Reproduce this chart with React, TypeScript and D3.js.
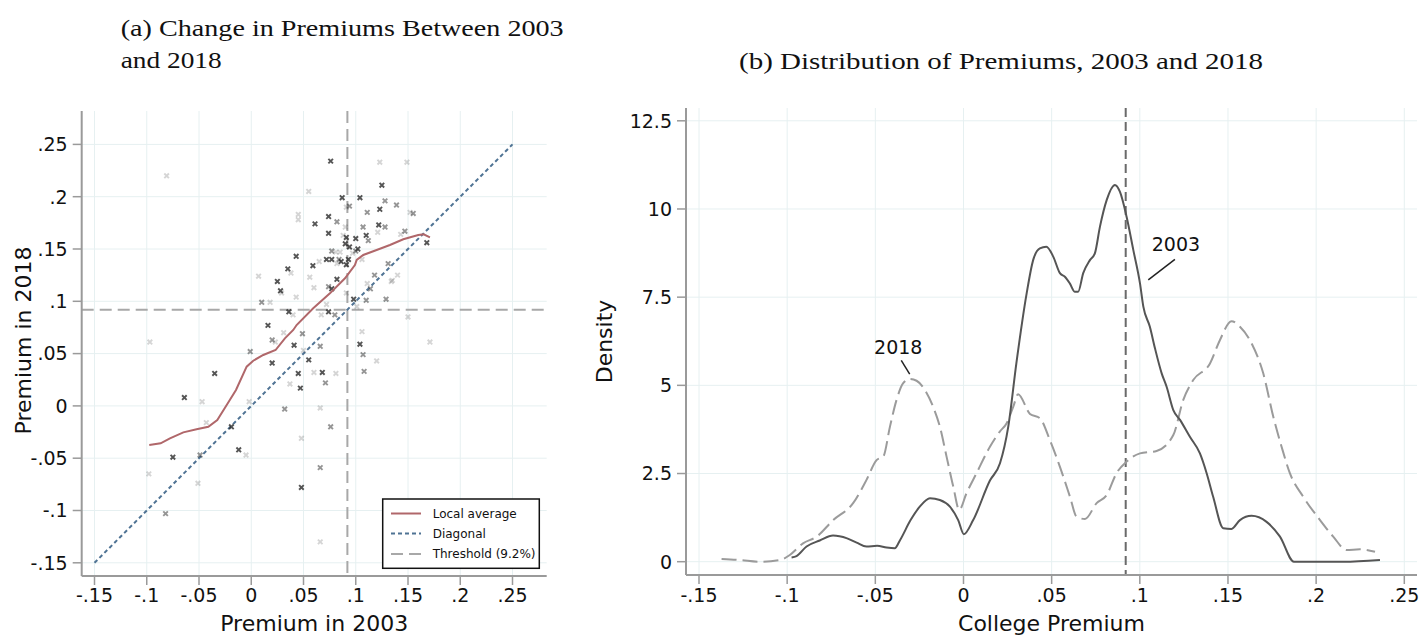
import React from 'react';
import * as d3 from 'd3';

// ---------- Data ----------
const axisTicksA = [-0.15, -0.1, -0.05, 0, 0.05, 0.1, 0.15, 0.2, 0.25];
const xTicksB = [-0.15, -0.1, -0.05, 0, 0.05, 0.1, 0.15, 0.2, 0.25];
const yTicksB = [0, 2.5, 5, 7.5, 10, 12.5];
const threshold = 0.092;

// scatter: premium 2003, premium 2018, weight class (3 dark, 2 mid, 1 light)
const prem2003 = [
  -0.081, 0.076, 0.123, 0.149, 0.125, 0.055, 0.087, 0.104, 0.128, 0.091,
  0.094, 0.139, 0.123, 0.111, 0.045, 0.045, 0.074, 0.152, 0.155, 0.082,
  0.061, 0.122, 0.128, 0.107, 0.090, 0.121, 0.147, 0.143, 0.074, 0.088,
  0.091, 0.100, 0.110, 0.112, 0.090, 0.094, 0.102, 0.100, 0.077, 0.081,
  0.085, 0.097, 0.168, 0.043, 0.072, 0.077, 0.084, 0.086, 0.093, 0.082,
  0.091, 0.065, 0.059, 0.106, 0.131, 0.035, 0.038, 0.007, 0.056, 0.118,
  0.140, 0.025, 0.082, 0.134, 0.074, 0.077, 0.060, 0.028, 0.111, 0.114,
  0.043, 0.098, 0.129, 0.091, 0.010, 0.018, 0.036, 0.040, 0.074, 0.080,
  0.067, 0.101, 0.110, 0.150, 0.016, 0.031, 0.049, 0.020, 0.023, 0.041,
  0.066, 0.050, -0.001, 0.020, 0.055, 0.106, 0.104, 0.107, 0.120, 0.108,
  0.171, -0.097, -0.035, -0.064, -0.047, -0.002, -0.043, -0.019, 0.045, 0.060,
  0.068, 0.081, 0.037, 0.047, 0.071, 0.032, 0.066, 0.076, 0.048, -0.012,
  -0.005, -0.075, -0.049, 0.066, -0.098, -0.051, 0.048, -0.082, 0.066, 0.029,
  0.135, 0.072,
];
const prem2018 = [
  0.220, 0.234, 0.233, 0.233, 0.211, 0.205, 0.199, 0.199, 0.196, 0.190,
  0.191, 0.192, 0.188, 0.185, 0.183, 0.178, 0.181, 0.185, 0.184, 0.176,
  0.174, 0.173, 0.171, 0.171, 0.171, 0.166, 0.167, 0.164, 0.165, 0.163,
  0.161, 0.160, 0.163, 0.158, 0.155, 0.152, 0.150, 0.148, 0.148, 0.147,
  0.147, 0.146, 0.156, 0.143, 0.140, 0.140, 0.140, 0.138, 0.140, 0.136,
  0.135, 0.138, 0.134, 0.140, 0.136, 0.131, 0.127, 0.124, 0.123, 0.125,
  0.125, 0.119, 0.121, 0.119, 0.114, 0.112, 0.113, 0.110, 0.117, 0.112,
  0.104, 0.102, 0.102, 0.108, 0.099, 0.099, 0.090, 0.087, 0.090, 0.087,
  0.087, 0.095, 0.101, 0.085, 0.077, 0.070, 0.069, 0.063, 0.061, 0.058,
  0.057, 0.053, 0.052, 0.041, 0.044, 0.071, 0.059, 0.049, 0.043, 0.033,
  0.061, 0.061, 0.031, 0.008, 0.004, 0.004, -0.016, -0.020, 0.031, 0.032,
  0.032, 0.031, 0.021, 0.017, 0.022, -0.003, -0.002, -0.020, -0.031, -0.042,
  -0.047, -0.049, -0.047, -0.059, -0.065, -0.074, -0.078, -0.103, -0.130, 0.108,
  0.120, 0.097,
];
const weightClass = [
  1, 3, 1, 1, 3, 1, 3, 3, 2, 1,
  2, 2, 3, 2, 1, 1, 3, 1, 2, 2,
  3, 3, 2, 2, 1, 1, 2, 1, 3, 1,
  3, 3, 3, 2, 3, 3, 3, 2, 2, 1,
  1, 1, 3, 3, 3, 3, 2, 3, 3, 1,
  3, 1, 3, 1, 2, 3, 1, 1, 1, 2,
  1, 3, 3, 1, 2, 3, 1, 3, 1, 2,
  1, 3, 2, 1, 2, 1, 3, 1, 3, 2,
  1, 1, 2, 1, 3, 1, 2, 2, 1, 3,
  2, 1, 2, 3, 3, 1, 3, 2, 1, 2,
  1, 1, 3, 3, 1, 1, 1, 3, 3, 1,
  3, 1, 1, 3, 2, 2, 1, 2, 1, 3,
  1, 3, 2, 2, 1, 1, 3, 2, 1, 1,
  1, 1,
];

// local average (lowess) line
const localX = [-0.0976, -0.0867, -0.0778, -0.065, -0.0523, -0.0411, -0.0325, -0.0235, -0.0146, -0.0044,
  0.0019, 0.0115, 0.0233, 0.0322, 0.0402, 0.0434, 0.0593, 0.0753, 0.0897, 0.0992,
  0.1009, 0.1072, 0.12, 0.1327, 0.1455, 0.1598, 0.1650, 0.171];
const localY = [-0.0374, -0.0358, -0.031, -0.0253, -0.0224, -0.0199, -0.0135, 0.0009, 0.0152, 0.0375,
  0.0432, 0.0487, 0.0534, 0.0646, 0.0726, 0.0773, 0.0933, 0.1076, 0.122, 0.1347,
  0.1395, 0.1443, 0.149, 0.1538, 0.1593, 0.1634, 0.164, 0.1612];

// kernel densities
const dens2003X = [-0.0975, -0.0947, -0.089, -0.0815, -0.074, -0.066, -0.0606, -0.055, -0.049, -0.0436,
  -0.039, -0.036, -0.030, -0.0248, -0.019, -0.0134, -0.0077, -0.003, 0.0002, 0.0055,
  0.015, 0.0207, 0.0254, 0.030, 0.0358, 0.0395, 0.0433, 0.047, 0.0509, 0.0547,
  0.0575, 0.0603, 0.0632, 0.065, 0.0679, 0.0717, 0.0745, 0.0774, 0.0812, 0.0859,
  0.0887, 0.0925, 0.0963, 0.1001, 0.102, 0.1057, 0.1086, 0.1124, 0.1152, 0.119,
  0.1228, 0.1284, 0.1341, 0.1379, 0.1416, 0.1473, 0.152, 0.1568, 0.1634, 0.1719,
  0.1795, 0.1874, 0.2154, 0.2362];
const dens2003Y = [0.12, 0.16, 0.43, 0.6, 0.74, 0.66, 0.54, 0.43, 0.45, 0.4,
  0.38, 0.61, 1.18, 1.56, 1.80, 1.75, 1.56, 1.18, 0.78, 1.18,
  2.3, 2.79, 3.83, 5.63, 7.6, 8.55, 8.88, 8.93, 8.65, 8.18,
  8.08, 7.89, 7.65, 7.65, 8.18, 8.55, 8.74, 9.5, 10.25, 10.68,
  10.49, 9.78, 8.84, 7.89, 7.23, 6.66, 6.05, 5.34, 4.96, 4.3,
  4.02, 3.54, 3.07, 2.51, 1.84, 0.95, 0.93, 1.18, 1.3, 1.13,
  0.71, 0.0, 0.0, 0.05];
const dens2018X = [-0.1372, -0.1268, -0.1155, -0.104, -0.0985, -0.091, -0.0833, -0.0739, -0.0626, -0.055,
  -0.0493, -0.0455, -0.0417, -0.038, -0.0342, -0.0304, -0.0266, -0.0219, -0.0172, -0.0134,
  -0.0096, -0.0058, -0.0024, 0.0017, 0.0074, 0.015, 0.0206, 0.0244, 0.0282, 0.031,
  0.0377, 0.0433, 0.049, 0.0547, 0.0604, 0.0641, 0.0689, 0.0755, 0.0812, 0.0868,
  0.0925, 0.1001, 0.1095, 0.119, 0.1246, 0.1303, 0.1398, 0.1454, 0.152, 0.1568,
  0.1634, 0.170, 0.1757, 0.1804, 0.1851, 0.1927, 0.2022, 0.2097, 0.2173, 0.2248,
  0.2334];
const dens2018Y = [0.08, 0.05, 0.0, 0.05, 0.19, 0.52, 0.71, 1.18, 1.66, 2.32,
  2.88, 2.98, 3.83, 4.58, 5.06, 5.18, 5.13, 4.87, 4.39, 3.83,
  2.98, 2.13, 1.47, 1.94, 2.51, 3.26, 3.69, 3.92, 4.39, 4.75,
  4.19, 4.07, 3.45, 2.69, 1.84, 1.28, 1.21, 1.66, 1.89, 2.51,
  2.84, 3.07, 3.14, 3.59, 4.58, 5.15, 5.62, 6.28, 6.82, 6.66,
  6.19, 5.34, 4.11, 3.26, 2.51, 1.84, 1.18, 0.71, 0.33, 0.35,
  0.28];

// ---------- Layout ----------
const W = 1421, H = 635;
const A = { left: 81.7, right: 546.7, top: 111, bottom: 576 };
const B = { left: 686, right: 1417, top: 108, bottom: 575 };

const xA = d3.scaleLinear().domain([-0.15, 0.25]).range([94.5, 512.5]);
const yA = d3.scaleLinear().domain([-0.15, 0.25]).range([562.8, 144.4]);
const xB = d3.scaleLinear().domain([-0.15, 0.25]).range([699, 1404.3]);
const yB = d3.scaleLinear().domain([0, 12.5]).range([561.7, 120.8]);

const shade = d3.scaleOrdinal<number, number>().domain([1, 2, 3]).range([0.2, 0.5, 0.8]);

const fmtA = (v: number) => (v === 0 ? '0' : String(+v.toFixed(2)).replace('0.', '.'));

const SANS = 'DejaVu Sans, Verdana, sans-serif';
const SERIF = 'Liberation Serif, Times New Roman, serif';
const GRID = '#e6f0f1';
const AXIS = '#9a9a9a';

function Cross({ x, y, op }: { x: number; y: number; op: number }) {
  const s = 2.3;
  return (
    <path
      d={`M${x - s},${y - s}L${x + s},${y + s}M${x - s},${y + s}L${x + s},${y - s}`}
      stroke="#2b2b2b"
      strokeOpacity={op}
      strokeWidth={1.9}
    />
  );
}

export default function App() {
  const localLine = d3.line<number>().x((d, i) => xA(localX[i])).y((d, i) => yA(localY[i]))(localX) || '';
  const line2003 = d3
    .line<number>()
    .x((d, i) => xB(dens2003X[i]))
    .y((d, i) => yB(dens2003Y[i]))
    .curve(d3.curveMonotoneX)(dens2003X) || '';
  const line2018 = d3
    .line<number>()
    .x((d, i) => xB(dens2018X[i]))
    .y((d, i) => yB(dens2018Y[i]))
    .curve(d3.curveMonotoneX)(dens2018X) || '';

  return (
    <svg
      width={W}
      height={H}
      style={{ position: 'absolute', left: 0, top: 0, background: '#fff' }}
      xmlns="http://www.w3.org/2000/svg"
    >
      <rect x={0} y={0} width={W} height={H} fill="#fff" />
      {/* ---------- Titles ---------- */}
      <text x={120.7} y={36} fontFamily={SERIF} fontSize={24} textLength={443} lengthAdjust="spacingAndGlyphs" fill="#111">
        (a) Change in Premiums Between 2003
      </text>
      <text x={120.7} y={68} fontFamily={SERIF} fontSize={24} textLength={101} lengthAdjust="spacingAndGlyphs" fill="#111">
        and 2018
      </text>
      <text x={739} y={69} fontFamily={SERIF} fontSize={24} textLength={524} lengthAdjust="spacingAndGlyphs" fill="#111">
        (b) Distribution of Premiums, 2003 and 2018
      </text>

      {/* ---------- Panel A ---------- */}
      <g>
        {axisTicksA.map((t) => (
          <line key={'gxa' + t} x1={xA(t)} x2={xA(t)} y1={A.top} y2={A.bottom} stroke={GRID} strokeWidth={1} />
        ))}
        {axisTicksA.map((t) => (
          <line key={'gya' + t} x1={A.left} x2={A.right} y1={yA(t)} y2={yA(t)} stroke={GRID} strokeWidth={1} />
        ))}
        {/* threshold lines */}
        <line x1={xA(threshold)} x2={xA(threshold)} y1={A.top} y2={A.bottom} stroke="#a8a8a8" strokeWidth={2} strokeDasharray="12,6" />
        <line x1={A.left} x2={A.right} y1={yA(threshold)} y2={yA(threshold)} stroke="#a8a8a8" strokeWidth={2} strokeDasharray="12,6" />
        {/* diagonal */}
        <line x1={xA(-0.15)} y1={yA(-0.15)} x2={xA(0.25)} y2={yA(0.25)} stroke="#4f7394" strokeWidth={2} strokeDasharray="4,3" />
        {/* scatter */}
        {prem2003.map((v, i) => (
          <Cross key={'p' + i} x={xA(v)} y={yA(prem2018[i])} op={shade(weightClass[i])} />
        ))}
        {/* local average */}
        <path d={localLine} fill="none" stroke="#b0676a" strokeWidth={2} />
        {/* axes */}
        <line x1={A.left} x2={A.left} y1={A.top} y2={A.bottom} stroke={AXIS} strokeWidth={2} />
        <line x1={A.left} x2={A.right} y1={A.bottom} y2={A.bottom} stroke={AXIS} strokeWidth={2} />
        {axisTicksA.map((t) => (
          <g key={'tya' + t}>
            <line x1={A.left - 9} x2={A.left} y1={yA(t)} y2={yA(t)} stroke={AXIS} strokeWidth={1.5} />
            <text x={A.left - 14} y={yA(t)} dy="0.36em" textAnchor="end" fontFamily={SANS} fontSize={19} fill="#111">
              {fmtA(t)}
            </text>
          </g>
        ))}
        {axisTicksA.map((t) => (
          <g key={'txa' + t}>
            <line x1={xA(t)} x2={xA(t)} y1={A.bottom} y2={A.bottom + 9} stroke={AXIS} strokeWidth={1.5} />
            <text x={xA(t)} y={601.5} textAnchor="middle" fontFamily={SANS} fontSize={19} fill="#111">
              {fmtA(t)}
            </text>
          </g>
        ))}
        <text x={(A.left + A.right) / 2} y={631} textAnchor="middle" fontFamily={SANS} fontSize={22} fill="#111">
          Premium in 2003
        </text>
        <text
          transform={`translate(31,${(A.top + A.bottom) / 2 - 3}) rotate(-90)`}
          textAnchor="middle"
          fontFamily={SANS}
          fontSize={22}
          fill="#111"
        >
          Premium in 2018
        </text>
        {/* legend */}
        <g>
          <rect x={382.7} y={499} width={156.6} height={69.3} fill="#fff" stroke="#111" strokeWidth={1.5} />
          <line x1={391} x2={421} y1={513.5} y2={513.5} stroke="#b0676a" strokeWidth={2} />
          <text x={432.7} y={513.5} dy="0.36em" fontFamily={SANS} fontSize={12} fill="#111">Local average</text>
          <line x1={391} x2={421} y1={533.5} y2={533.5} stroke="#4f7394" strokeWidth={2} strokeDasharray="4,3" />
          <text x={432.7} y={533.5} dy="0.36em" fontFamily={SANS} fontSize={12} fill="#111">Diagonal</text>
          <line x1={391} x2={421} y1={554} y2={554} stroke="#a8a8a8" strokeWidth={2} strokeDasharray="12,6" />
          <text x={432.7} y={554} dy="0.36em" fontFamily={SANS} fontSize={12} fill="#111">Threshold (9.2%)</text>
        </g>
      </g>

      {/* ---------- Panel B ---------- */}
      <g>
        {xTicksB.map((t) => (
          <line key={'gxb' + t} x1={xB(t)} x2={xB(t)} y1={B.top} y2={B.bottom} stroke={GRID} strokeWidth={1} />
        ))}
        {yTicksB.map((t) => (
          <line key={'gyb' + t} x1={B.left} x2={B.right} y1={yB(t)} y2={yB(t)} stroke={GRID} strokeWidth={1} />
        ))}
        <line x1={xB(threshold)} x2={xB(threshold)} y1={B.top} y2={B.bottom} stroke="#6a6a6a" strokeWidth={2} strokeDasharray="9,5" />
        <path d={line2018} fill="none" stroke="#9b9b9b" strokeWidth={2} strokeDasharray="15,6" />
        <path d={line2003} fill="none" stroke="#555" strokeWidth={2} />
        {/* annotations */}
        <text x={xB(-0.037)} y={yB(5.9)} textAnchor="middle" fontFamily={SANS} fontSize={19} fill="#111">2018</text>
        <line x1={xB(-0.0353)} y1={yB(5.71)} x2={xB(-0.0305)} y2={yB(5.32)} stroke="#222" strokeWidth={1.5} />
        <text x={xB(0.1205)} y={yB(8.8)} textAnchor="middle" fontFamily={SANS} fontSize={19} fill="#111">2003</text>
        <line x1={xB(0.1199)} y1={yB(8.57)} x2={xB(0.1048)} y2={yB(7.99)} stroke="#222" strokeWidth={1.5} />
        {/* axes */}
        <line x1={B.left} x2={B.left} y1={B.top} y2={B.bottom} stroke={AXIS} strokeWidth={2} />
        <line x1={B.left} x2={B.right} y1={B.bottom} y2={B.bottom} stroke={AXIS} strokeWidth={2} />
        {yTicksB.map((t) => (
          <g key={'tyb' + t}>
            <line x1={B.left - 9} x2={B.left} y1={yB(t)} y2={yB(t)} stroke={AXIS} strokeWidth={1.5} />
            <text x={B.left - 14} y={yB(t)} dy="0.36em" textAnchor="end" fontFamily={SANS} fontSize={19} fill="#111">
              {String(t)}
            </text>
          </g>
        ))}
        {xTicksB.map((t) => (
          <g key={'txb' + t}>
            <line x1={xB(t)} x2={xB(t)} y1={B.bottom} y2={B.bottom + 9} stroke={AXIS} strokeWidth={1.5} />
            <text x={xB(t)} y={601.5} textAnchor="middle" fontFamily={SANS} fontSize={19} fill="#111">
              {fmtA(t)}
            </text>
          </g>
        ))}
        <text x={(B.left + B.right) / 2} y={631} textAnchor="middle" fontFamily={SANS} fontSize={22} fill="#111">
          College Premium
        </text>
        <text
          transform={`translate(612,${(B.top + B.bottom) / 2}) rotate(-90)`}
          textAnchor="middle"
          fontFamily={SANS}
          fontSize={22}
          fill="#111"
        >
          Density
        </text>
      </g>
    </svg>
  );
}
